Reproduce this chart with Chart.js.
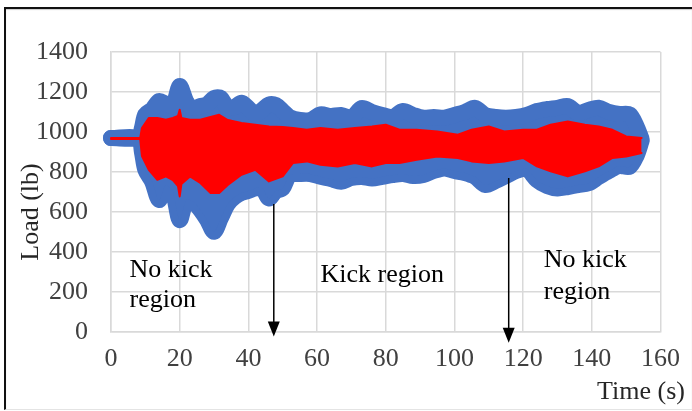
<!DOCTYPE html>
<html>
<head>
<script src="https://cdn.jsdelivr.net/npm/chart.js@4.4.1/dist/chart.umd.min.js"></script>
<style>
body { margin: 0; background: #fff; }
#wrap { position: relative; width: 692px; height: 411px; }
#frame {
  position: absolute; left: 4px; top: 7px; right: 0; bottom: 1px;
  border-top: 2px solid #111; border-left: 2px solid #111;
  border-bottom: 1px solid #e4e4e4;
  box-shadow: inset 0 1px 1px #ccc;
  pointer-events: none;
}
</style>
</head>
<body>
<div id="wrap">
  <canvas id="c" width="692" height="411"></canvas>
  <div id="frame"></div>
</div>
<script>
// blue band: extremes of the load signal (lb) at time t (s)
var blueTime  = [0, 8, 9, 10, 12, 14, 16, 18, 20, 22, 24, 26, 28, 30, 32, 34, 36, 38, 40, 42, 44, 46, 48, 50, 52, 55, 58, 61, 64, 67, 70, 73, 76, 79, 82, 85, 88, 91, 94, 97, 100, 103, 106, 109, 112, 115, 118, 121, 124, 127, 130, 133, 136, 139, 142, 145, 148, 151, 153, 154.5];
var blueUpper = [970, 970, 1020, 1088, 1113, 1155, 1140, 1130, 1230, 1150, 1121, 1130, 1138, 1170, 1170, 1120, 1125, 1146, 1120, 1088, 1110, 1138, 1135, 1105, 1075, 1060, 1060, 1088, 1080, 1085, 1071, 1120, 1100, 1085, 1075, 1105, 1085, 1071, 1075, 1071, 1085, 1100, 1121, 1085, 1075, 1071, 1075, 1085, 1105, 1115, 1121, 1130, 1095, 1110, 1121, 1100, 1090, 1088, 1030, 965];
var blueLower = [970, 970, 900, 810, 751, 660, 735, 700, 560, 660, 651, 610, 560, 501, 570, 640, 675, 695, 705, 718, 720, 668, 705, 718, 785, 790, 790, 776, 765, 751, 770, 775, 768, 776, 785, 790, 780, 785, 805, 818, 805, 795, 776, 735, 755, 780, 805, 815, 760, 730, 718, 725, 735, 743, 775, 805, 830, 826, 880, 955];

// red band
var redTime  = [0, 8.5, 9, 11, 13.5, 16, 18, 19.5, 20, 20.5, 23, 26, 29, 31.5, 34, 38, 42, 46, 50, 53, 57, 61, 66, 71, 76, 80, 84, 89, 95, 101, 105, 110, 114.5, 120, 124, 128, 133, 138, 142, 146, 150, 154.5];
var redUpper = [970, 970, 1020, 1070, 1070, 1061, 1070, 1080, 1111, 1070, 1061, 1061, 1075, 1086, 1060, 1045, 1036, 1028, 1025, 1020, 1011, 1020, 1011, 1020, 1028, 1036, 1011, 1011, 1003, 986, 1011, 1028, 1003, 1011, 1011, 1036, 1053, 1036, 1028, 1011, 978, 970];
var redLower = [965, 965, 880, 811, 761, 778, 760, 730, 678, 740, 778, 745, 695, 695, 735, 786, 811, 753, 778, 845, 853, 836, 828, 845, 828, 845, 845, 861, 878, 870, 853, 845, 853, 870, 828, 803, 778, 803, 828, 870, 878, 895];

var xTicks = [0, 20, 40, 60, 80, 100, 120, 140, 160];
var yTicks = [0, 200, 400, 600, 800, 1000, 1200, 1400];

// region labels: [text, t, load]
var notes = [
  ['No kick', 5.4, 311], ['region', 5.4, 161],
  ['Kick region', 61, 286],
  ['No kick', 126, 361], ['region', 126, 201]
];
// arrows: [t, from load, to load]
var arrows = [[47.4, 640, -23], [115.8, 770, -54]];

var FONT = "'Liberation Serif', 'Times New Roman', serif";

function pts(t, v) {
  return t.map(function(x, i) { return {x: x, y: v[i]}; });
}

var blue = '#4472C4', red = '#FF0000';

var extras = {
  id: 'extras',
  afterDatasetsDraw: function(chart) {
    var ctx = chart.ctx, xs = chart.scales.x, ys = chart.scales.y;
    ctx.save();
    ctx.fillStyle = '#000';
    ctx.strokeStyle = '#000';
    ctx.lineWidth = 1.5;
    arrows.forEach(function(a) {
      var x = xs.getPixelForValue(a[0]);
      var y0 = ys.getPixelForValue(a[1]);
      var y1 = ys.getPixelForValue(a[2]);
      ctx.beginPath();
      ctx.moveTo(x, y0);
      ctx.lineTo(x, y1 - 10);
      ctx.stroke();
      ctx.beginPath();
      ctx.moveTo(x - 6, y1 - 15);
      ctx.lineTo(x + 6, y1 - 15);
      ctx.lineTo(x, y1);
      ctx.closePath();
      ctx.fill();
    });
    ctx.font = '26px ' + FONT;
    ctx.textBaseline = 'middle';
    ctx.textAlign = 'left';
    notes.forEach(function(n) {
      ctx.fillText(n[0], xs.getPixelForValue(n[1]), ys.getPixelForValue(n[2]));
    });
    // axis titles
    ctx.fillStyle = '#262626';
    ctx.textAlign = 'right';
    ctx.fillText('Time (s)', chart.width - 7, xs.bottom - 19);
    ctx.translate(31, ys.getPixelForValue(600));
    ctx.rotate(-Math.PI / 2);
    ctx.textAlign = 'center';
    ctx.fillText('Load (lb)', 0, 0);
    ctx.restore();
  }
};

new Chart(document.getElementById('c'), {
  type: 'line',
  data: {
    datasets: [
      {data: pts(redTime, redUpper), borderColor: red, backgroundColor: red, borderWidth: 2, fill: '+1', tension: 0},
      {data: pts(redTime, redLower), borderColor: red, borderWidth: 2, fill: false, tension: 0},
      {data: pts(blueTime, blueUpper), borderColor: blue, backgroundColor: blue, borderWidth: 16, fill: '+1', tension: 0.3},
      {data: pts(blueTime, blueLower), borderColor: blue, borderWidth: 16, fill: false, tension: 0.3}
    ]
  },
  options: {
    responsive: false,
    animation: false,
    layout: {padding: {top: 52, right: 28, left: 0, bottom: 0}},
    elements: {
      point: {radius: 0},
      line: {borderCapStyle: 'round', borderJoinStyle: 'round'}
    },
    datasets: {line: {clip: false}},
    plugins: {legend: {display: false}, tooltip: {enabled: false}},
    scales: {
      x: {
        type: 'linear', min: 0, max: 160,
        afterBuildTicks: function(s) { s.ticks = xTicks.map(function(v) { return {value: v}; }); },
        afterFit: function(s) { s.height = 79; },
        grid: {color: '#d9d9d9', lineWidth: 1.5, drawTicks: false},
        border: {color: '#d9d9d9', width: 1.5},
        ticks: {font: {family: FONT, size: 26}, color: '#404040', padding: 12, maxRotation: 0,
                callback: function(v) { return String(v); }}
      },
      y: {
        min: 0, max: 1400,
        afterBuildTicks: function(s) { s.ticks = yTicks.map(function(v) { return {value: v}; }); },
        afterFit: function(s) { s.width = 111; },
        grid: {color: '#d9d9d9', lineWidth: 1.5, drawTicks: false},
        border: {color: '#d9d9d9', width: 1.5},
        ticks: {font: {family: FONT, size: 26}, color: '#404040', padding: 23,
                callback: function(v) { return String(v); }}
      }
    }
  },
  plugins: [extras]
});
</script>
</body>
</html>
